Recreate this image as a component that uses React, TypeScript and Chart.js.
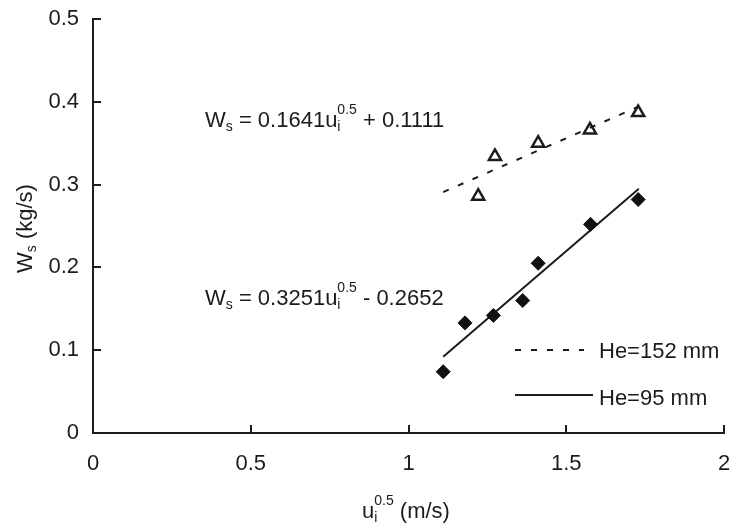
import React, { useEffect, useRef } from 'react';
import { Chart, registerables } from 'chart.js';

Chart.register(...registerables);

const FAMILY = '"Liberation Sans", Arial, Helvetica, sans-serif';
const INK = '#1c1c1c';

// Axis ticks
const xTicks = [0, 0.5, 1, 1.5, 2];
const yTicks = [0, 0.1, 0.2, 0.3, 0.4, 0.5];

// He = 95 mm (filled diamonds)
const he95X = [1.11, 1.179, 1.269, 1.362, 1.411, 1.577, 1.728];
const he95Y = [0.074, 0.133, 0.142, 0.16, 0.205, 0.252, 0.282];

// He = 152 mm (open triangles)
const he152X = [1.221, 1.274, 1.411, 1.575, 1.728];
const he152Y = [0.286, 0.334, 0.35, 0.366, 0.387];

// Fitted lines (end points)
const fit95X = [1.11, 1.73];
const fit95Y = [0.092, 0.295];
const fit152X = [1.11, 1.74];
const fit152Y = [0.291, 0.396];

// Annotations
const eq152 = { x: 0.355, y: 0.369, parts: [['W'], ['s', 'sub'], [' = 0.1641u'], ['i', 'sub', '0.5'], [' + 0.1111']] };
const eq95 = { x: 0.355, y: 0.154, parts: [['W'], ['s', 'sub'], [' = 0.3251u'], ['i', 'sub', '0.5'], [' - 0.2652']] };
const legendLabels = ['He=152 mm', 'He=95 mm'];

const toPts = (xs: number[], ys: number[]) => xs.map((x, i) => ({ x, y: ys[i] }));

function drawRich(ctx: CanvasRenderingContext2D, x: number, y: number, parts: string[][], size: number) {
  const main = `${size}px ${FAMILY}`;
  const small = `${Math.round(size * 0.64)}px ${FAMILY}`;
  let cx = x;
  for (const p of parts) {
    if (p[1] === 'sub') {
      ctx.font = small;
      ctx.fillText(p[0], cx, y + 4);
      let w = ctx.measureText(p[0]).width;
      if (p[2]) {
        ctx.fillText(p[2], cx, y - 13);
        w = Math.max(w, ctx.measureText(p[2]).width);
      }
      cx += w;
    } else {
      ctx.font = main;
      ctx.fillText(p[0], cx, y);
      cx += ctx.measureText(p[0]).width;
    }
  }
}

const decorPlugin = {
  id: 'decor',
  afterDraw(chart: any) {
    const ctx: CanvasRenderingContext2D = chart.ctx;
    const xs = chart.scales.x;
    const ys = chart.scales.y;
    const area = chart.chartArea;
    ctx.save();
    // inward tick marks
    ctx.strokeStyle = INK;
    ctx.lineWidth = 2;
    ctx.beginPath();
    for (const v of xTicks) {
      if (v === 0) continue;
      const px = Math.round(xs.getPixelForValue(v));
      ctx.moveTo(px, area.bottom);
      ctx.lineTo(px, area.bottom - 8);
    }
    for (const v of yTicks) {
      if (v === 0) continue;
      const py = Math.round(ys.getPixelForValue(v));
      ctx.moveTo(area.left, py);
      ctx.lineTo(area.left + 8, py);
    }
    ctx.stroke();

    ctx.fillStyle = INK;
    ctx.textBaseline = 'alphabetic';
    ctx.textAlign = 'left';
    // equations
    for (const eq of [eq152, eq95]) {
      drawRich(ctx, xs.getPixelForValue(eq.x), ys.getPixelForValue(eq.y), eq.parts, 22);
    }
    // x axis title
    drawRich(ctx, 362, 518, [['u'], ['i', 'sub', '0.5'], [' (m/s)']], 22);
    // y axis title
    ctx.save();
    ctx.translate(32, 273);
    ctx.rotate(-Math.PI / 2);
    drawRich(ctx, 0, 0, [['W'], ['s', 'sub'], [' (kg/s)']], 22);
    ctx.restore();

    // legend
    ctx.lineWidth = 2;
    ctx.setLineDash([6, 10]);
    ctx.beginPath();
    ctx.moveTo(515, 350);
    ctx.lineTo(584, 350);
    ctx.stroke();
    ctx.setLineDash([]);
    ctx.beginPath();
    ctx.moveTo(515, 395);
    ctx.lineTo(593, 395);
    ctx.stroke();
    ctx.font = `22px ${FAMILY}`;
    ctx.fillText(legendLabels[0], 599, 358);
    ctx.fillText(legendLabels[1], 599, 405);
    ctx.restore();
  },
};

const bgPlugin = {
  id: 'bg',
  beforeDraw(chart: any) {
    const ctx = chart.ctx;
    ctx.save();
    ctx.fillStyle = '#ffffff';
    ctx.fillRect(0, 0, chart.width, chart.height);
    ctx.restore();
  },
};

export default function App() {
  const ref = useRef<HTMLCanvasElement | null>(null);
  useEffect(() => {
    if (!ref.current) return;
    const tickFont = { family: FAMILY, size: 22 };
    const chart = new Chart(ref.current, {
      type: 'scatter',
      data: {
        datasets: [
          {
            label: 'He=95 mm points',
            data: toPts(he95X, he95Y),
            pointStyle: 'rectRot',
            pointRadius: 7,
            backgroundColor: '#111',
            borderColor: '#111',
            borderWidth: 1,
            showLine: false,
          },
          {
            label: 'He=152 mm points',
            data: toPts(he152X, he152Y),
            pointStyle: 'triangle',
            pointRadius: 7,
            backgroundColor: 'rgba(0,0,0,0)',
            borderColor: INK,
            borderWidth: 2.5,
            showLine: false,
          },
          {
            label: 'He=152 mm',
            data: toPts(fit152X, fit152Y),
            showLine: true,
            pointRadius: 0,
            borderColor: INK,
            borderWidth: 2,
            borderDash: [6, 10],
          },
          {
            label: 'He=95 mm',
            data: toPts(fit95X, fit95Y),
            showLine: true,
            pointRadius: 0,
            borderColor: INK,
            borderWidth: 2,
          },
        ],
      },
      options: {
        responsive: false,
        animation: false,
        layout: { padding: { left: 0, right: 11, top: 19, bottom: 0 } },
        plugins: { legend: { display: false }, tooltip: { enabled: false } },
        scales: {
          x: {
            type: 'linear',
            min: 0,
            max: 2,
            afterBuildTicks: (s: any) => {
              s.ticks = xTicks.map((v) => ({ value: v }));
            },
            afterFit: (s: any) => {
              s.height = 94;
              s.paddingLeft = 0;
              s.paddingRight = 0;
            },
            grid: { display: false, drawTicks: false },
            border: { display: true, color: INK, width: 2 },
            ticks: { font: tickFont, color: INK, padding: 18, maxRotation: 0, callback: (v: any) => String(v) },
          },
          y: {
            type: 'linear',
            min: 0,
            max: 0.5,
            afterBuildTicks: (s: any) => {
              s.ticks = yTicks.map((v) => ({ value: v }));
            },
            afterFit: (s: any) => {
              s.width = 93;
              s.paddingTop = 0;
              s.paddingBottom = 0;
            },
            grid: { display: false, drawTicks: false },
            border: { display: true, color: INK, width: 2 },
            ticks: { font: tickFont, color: INK, padding: 14, callback: (v: any) => String(v) },
          },
        },
      },
      plugins: [bgPlugin, decorPlugin],
    } as any);
    return () => chart.destroy();
  }, []);
  return (
    <div style={{ position: 'fixed', left: 0, top: 0, width: 735, height: 527, background: '#fff' }}>
      <canvas ref={ref} width={735} height={527} style={{ display: 'block' }} />
    </div>
  );
}
